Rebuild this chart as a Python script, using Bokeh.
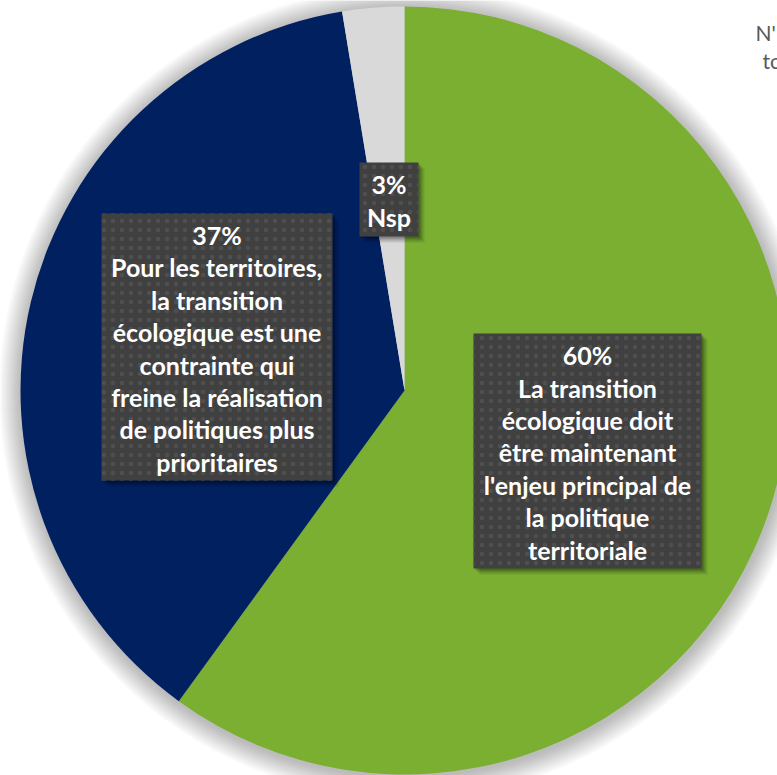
import numpy as np
from bokeh.plotting import figure
from bokeh.models import Range1d
from bokeh.core.properties import value
from bokeh.embed import file_html
from bokeh.resources import INLINE

# ---- data ----
categories = [
    "La transition écologique doit être maintenant l'enjeu principal de la politique territoriale",
    "Pour les territoires, la transition écologique est une contrainte qui freine la réalisation de politiques plus prioritaires",
    "Nsp",
]
shares = [60.0, 37.4, 2.6]          # slice sizes (estimated from angles)
pct_labels = ["60%", "37%", "3%"]   # printed percentages
label_lines = [
    ["La transition", "écologique doit", "être maintenant", "l'enjeu principal de", "la politique", "territoriale"],
    ["Pour les territoires,", "la transition", "écologique est une", "contrainte qui", "freine la réalisation", "de politiques plus", "prioritaires"],
    ["Nsp"],
]
colors = ["#7AAF31", "#002060", "#D9D9D9"]
side_text = ["N'", "to"]

# ---- layout (pixels of the 777x775 picture) ----
W, H = 777, 775
def X(sx): return sx
def Y(sy): return H - sy

cx, cy, R = X(404), Y(390), 384
# label boxes: (left, top, right, bottom) in picture pixels, text centre y
boxes = [(473, 333, 701, 568, 452), (101, 213, 332, 480, 348), (359, 162, 418, 236, 200)]

p = figure(width=W, height=H, output_backend="svg", toolbar_location=None,
           x_range=Range1d(0, W), y_range=Range1d(0, H), min_border=0,
           background_fill_color="white", border_fill_color="white")
p.axis.visible = False
p.grid.visible = False
p.outline_line_color = None

# soft shadow around the pie
for i in range(14, 0, -1):
    p.circle(x=[cx + 1], y=[cy - 2], radius=R + i * 1.6, radius_units="data",
             fill_color="black", fill_alpha=0.018, line_color=None)

# pie slices
total = sum(shares)
fr = np.cumsum([0] + shares) / total
starts = np.pi / 2 - 2 * np.pi * fr[:-1]
ends = np.pi / 2 - 2 * np.pi * fr[1:]
p.wedge(x=[cx] * 3, y=[cy] * 3, radius=R, radius_units="data",
        start_angle=list(starts), end_angle=list(ends), direction="clock",
        fill_color=colors, line_color=None)

# label boxes
for (l, t, r, b, ty), pct, lines in zip(boxes, pct_labels, label_lines):
    xm, ym = X((l + r) / 2), Y((t + b) / 2)
    w, h = r - l, b - t
    for k, a in ((6, 0.10), (4, 0.15), (2, 0.2)):
        p.rect(x=[xm + k], y=[ym - k], width=w, height=h, fill_color="black",
               fill_alpha=a, line_color=None)
    p.rect(x=[xm], y=[ym], width=w, height=h, fill_color="#404040", line_color=None,
           hatch_pattern="dot", hatch_color="#4F4F4F", hatch_scale=9, hatch_weight=1.5)
    txt = "\n".join([pct] + lines)
    p.text(x=[xm], y=[Y(ty)], text=[txt], text_align="center", text_baseline="middle",
           text_font=value("Lato"), text_font_style="bold", text_font_size="25px",
           text_color="white", text_line_height=1.08)

# partially visible text at the top right (cut by the picture edge, as in the reference)
p.text(x=[X(755), X(762)], y=[Y(32), Y(60)], text=side_text, text_align="left",
       text_baseline="middle", text_font=value("Lato"), text_font_size="21px",
       text_color="#595959")

open("out.html", "w").write(file_html(p, INLINE))
